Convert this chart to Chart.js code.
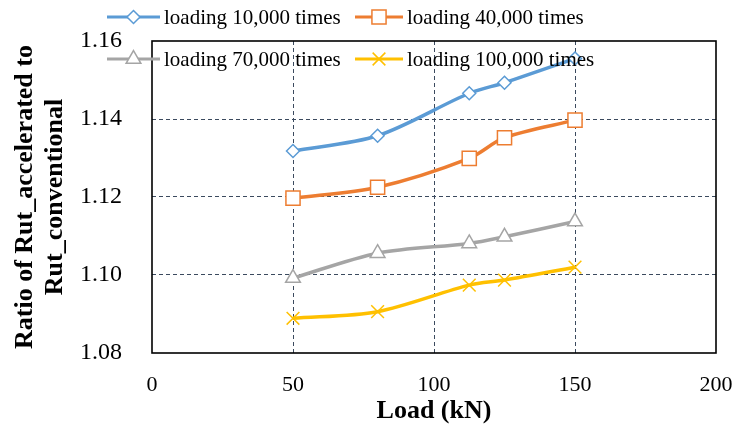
<!DOCTYPE html>
<html>
<head>
<meta charset="utf-8">
<script src="https://cdn.jsdelivr.net/npm/chart.js@4.4.0/dist/chart.umd.min.js"></script>
<style>
    html, body { margin: 0; padding: 0; background: #fff; }
    #wrap { width: 734px; height: 431px; }
</style>
</head>
<body>
<div id="wrap"><canvas id="grafikRut"></canvas></div>
<script>
const loads = [50, 80, 112.5, 125, 150];
const loading10k = [1.1318, 1.1357, 1.1466, 1.1493, 1.1555];
const loading40k = [1.1197, 1.1225, 1.1299, 1.1352, 1.1397];
const loading70k = [1.0992, 1.1056, 1.1081, 1.1098, 1.1137];
const loading100k = [1.0889, 1.0906, 1.0974, 1.0987, 1.1020];
const seriesNames = ['loading 10,000 times', 'loading 40,000 times', 'loading 70,000 times', 'loading 100,000 times'];
const xTicks = [0, 50, 100, 150, 200];
const yTicks = [1.08, 1.10, 1.12, 1.14, 1.16];

const serif = '"Liberation Serif", "Times New Roman", serif';

function toPoints(values) {
    return loads.map((x, i) => ({ x: x, y: values[i] }));
}

// legend sits over the plot like in excel: [line start, line end, y]
const legendSpots = [[107, 160, 17], [355, 403, 17], [107, 160, 59], [355, 403, 59]];

const excelLegend = {
    id: 'excelLegend',
    afterDraw(chart) {
        const ctx = chart.ctx;
        chart.data.datasets.forEach((ds, i) => {
            const [x1, x2, y] = legendSpots[i];
            ctx.save();
            ctx.strokeStyle = ds.borderColor;
            ctx.lineWidth = 3;
            ctx.beginPath();
            ctx.moveTo(x1, y);
            ctx.lineTo(x2, y);
            ctx.stroke();
            ctx.fillStyle = '#fff';
            ctx.lineWidth = 1.5;
            Chart.helpers.drawPoint(ctx, {
                pointStyle: ds.pointStyle, radius: ds.pointRadius, rotation: 0, borderWidth: 1.5
            }, (x1 + x2) / 2, y);
            ctx.fillStyle = '#000';
            ctx.font = '21px ' + serif;
            ctx.textBaseline = 'middle';
            ctx.textAlign = 'left';
            ctx.fillText(ds.label, x2 + 4, y + 1);
            ctx.restore();
        });
    }
};

const plotFrame = {
    id: 'plotFrame',
    afterDatasetsDraw(chart) {
        const { ctx, chartArea } = chart;
        ctx.save();
        ctx.strokeStyle = '#000';
        ctx.lineWidth = 1.6;
        ctx.strokeRect(chartArea.left, chartArea.top, chartArea.right - chartArea.left, chartArea.bottom - chartArea.top);
        ctx.restore();
    }
};

function makeSeries(label, values, color, style, radius) {
    return {
        label: label,
        data: toPoints(values),
        borderColor: color,
        backgroundColor: '#fff',
        borderWidth: 3.5,
        tension: 0.3,
        pointStyle: style,
        pointRadius: radius,
        pointBorderWidth: 1.5,
        pointBorderColor: color,
        pointBackgroundColor: '#fff'
    };
}

const gridColor = '#3B4A5E';

const grafikRut = document.getElementById('grafikRut').getContext('2d');
new Chart(grafikRut, {
    type: 'line',
    data: {
        datasets: [
            makeSeries(seriesNames[0], loading10k, '#5B9BD5', 'rectRot', 6.5),
            makeSeries(seriesNames[1], loading40k, '#ED7D31', 'rect', 10),
            makeSeries(seriesNames[2], loading70k, '#A5A5A5', 'triangle', 8.5),
            makeSeries(seriesNames[3], loading100k, '#FFC000', 'crossRot', 9)
        ]
    },
    options: {
        responsive: true,
        maintainAspectRatio: false,
        animation: false,
        layout: { padding: { left: 0, right: 18, top: 41, bottom: 0 } },
        plugins: {
            legend: { display: false },
            tooltip: { enabled: false }
        },
        scales: {
            x: {
                type: 'linear',
                min: xTicks[0],
                max: xTicks[xTicks.length - 1],
                afterFit(scale) {
                    scale.height = 78;
                    scale.paddingLeft = 0;
                    scale.paddingRight = 0;
                },
                afterBuildTicks(scale) { scale.ticks = xTicks.map(v => ({ value: v })); },
                border: { display: false, dash: [4, 3] },
                grid: {
                    drawTicks: false,
                    lineWidth: 1,
                    color: ctx => (ctx.tick && (ctx.tick.value === 0 || ctx.tick.value === 200)) ? 'rgba(0,0,0,0)' : gridColor
                },
                ticks: {
                    padding: 19,
                    color: '#000',
                    font: { family: serif, size: 22 }
                },
                title: {
                    display: true,
                    text: 'Load (kN)',
                    color: '#000',
                    font: { family: serif, size: 26, weight: 'bold' },
                    padding: { top: 0, bottom: 4 }
                }
            },
            y: {
                min: yTicks[0],
                max: yTicks[yTicks.length - 1],
                afterFit(scale) {
                    scale.width = 152;
                    scale.paddingTop = 0;
                    scale.paddingBottom = 0;
                },
                afterBuildTicks(scale) { scale.ticks = yTicks.map(v => ({ value: v })); },
                border: { display: false, dash: [4, 3] },
                grid: {
                    drawTicks: false,
                    lineWidth: 1,
                    color: ctx => (ctx.tick && (Math.abs(ctx.tick.value - 1.08) < 1e-6 || Math.abs(ctx.tick.value - 1.16) < 1e-6)) ? 'rgba(0,0,0,0)' : gridColor
                },
                ticks: {
                    padding: 30,
                    color: '#000',
                    font: { family: serif, size: 24 },
                    callback: v => v.toFixed(2)
                },
                title: {
                    display: true,
                    text: ['Ratio of Rut_accelerated to', 'Rut_conventional'],
                    color: '#000',
                    font: { family: serif, size: 26, weight: 'bold', lineHeight: 1.15 },
                    padding: { top: 10, bottom: 0 }
                }
            }
        }
    },
    plugins: [plotFrame, excelLegend]
});
</script>
</body>
</html>
